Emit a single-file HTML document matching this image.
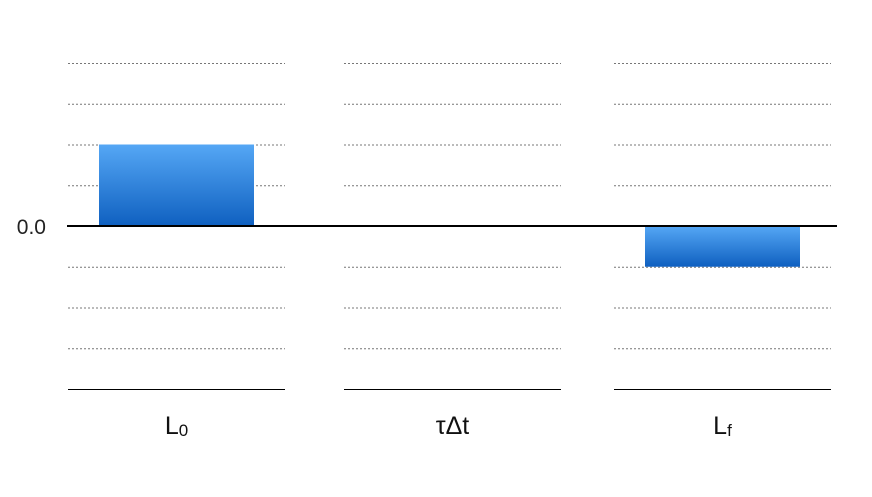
<!DOCTYPE html>
<html><head><meta charset="utf-8"><style>
html,body{margin:0;padding:0;background:#fff;width:872px;height:497px;overflow:hidden}
text{font-family:"Liberation Sans","DejaVu Sans",sans-serif}
</style></head><body>
<svg id="chart" width="872" height="497" xmlns="http://www.w3.org/2000/svg">
<defs><linearGradient id="g" x1="0" y1="0" x2="0" y2="1"><stop offset="0" stop-color="#55a7f5"/><stop offset="1" stop-color="#0f60c0"/></linearGradient></defs>
</svg>
<script>
const categories = ["L0", "τΔt", "Lf"];
const values = [2, 0, -1];
const gridTicks = [4, 3, 2, 1, -1, -2, -3];
const yLabel = "0.0";

const NS = "http://www.w3.org/2000/svg";
const svg = document.getElementById("chart");
const zeroY = 226, unit = 40.75;
function y(v){ return zeroY - v*unit; }
const panels = [[68,285],[344,561],[614,831]];
function mk(tag, attrs){ const e=document.createElementNS(NS,tag); for(const k in attrs) e.setAttribute(k,attrs[k]); svg.appendChild(e); return e; }

categories.forEach((c,i)=>{
  const [x0,x1]=panels[i];
  gridTicks.forEach(t=>{
    const l=mk("line",{x1:x0,x2:x1,y1:y(t)+0.5,y2:y(t)+0.5,stroke:"#777","stroke-width":1,"stroke-dasharray":"2,2"});
    
    
  });
  const b=mk("line",{x1:x0,x2:x1,y1:y(-4)+0.5,y2:y(-4)+0.5,stroke:"#000","stroke-width":1});
  
  
  const v=values[i];
  if(v!==0){
    const r=mk("rect",{x:x0+31,width:155,y:Math.min(y(v),zeroY),height:Math.abs(y(v)-zeroY),fill:"url(#g)"});
    
    
  }
  const cx=(x0+x1)/2;
  const t=mk("text",{x:cx,y:434,"text-anchor":"middle","font-size":25,fill:"#111"});
  
  
  if(c.length===2 && c[0]==="L"){
    t.textContent="L";
    const s=document.createElementNS(NS,"tspan");
    s.setAttribute("font-size","17"); s.setAttribute("dy","2");
    s.textContent=c[1]; t.appendChild(s);
  } else t.textContent=c;
});
const z=mk("line",{x1:67,x2:837,y1:zeroY,y2:zeroY,stroke:"#000","stroke-width":2});


const yl=mk("text",{x:46,y:zeroY+8,"text-anchor":"end","font-size":21,fill:"#222"});
yl.textContent=yLabel;


</script>
</body></html>
